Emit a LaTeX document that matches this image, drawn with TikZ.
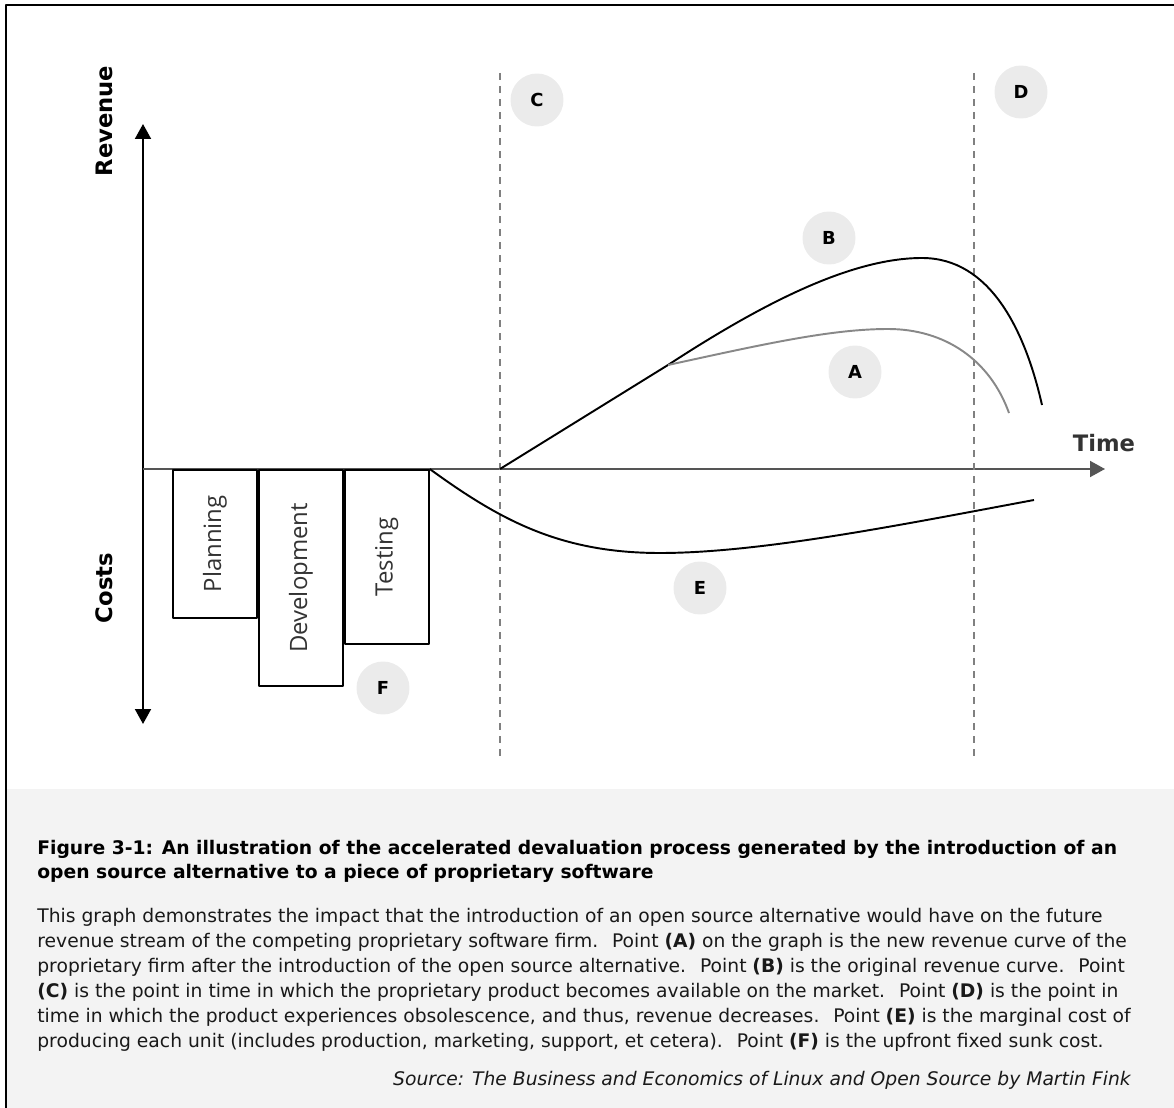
\documentclass[tikz,border=0pt]{standalone}
\usepackage{fontspec}
\setmainfont{DejaVu Sans}
\newfontfamily\phasefont{Open Sans}
\usetikzlibrary{positioning,arrows.meta}

\begin{document}
\begin{tikzpicture}[x=0.02cm, y=-0.02cm, node distance=0cm]
    \tikzset{every path/.style={line join=round}}
\definecolor{Punkt_grau}{RGB}{235,235,235}
\definecolor{Kasten_grau}{RGB}{243,243,243}
\definecolor{Achse_grau}{RGB}{85,85,85}
\definecolor{Kurve_grau}{RGB}{136,136,136}
\definecolor{Linie_grau}{RGB}{128,128,128}
\tikzset{
    marker/.style={circle, fill=Punkt_grau, minimum size=1.06cm, inner sep=0pt, font=\bfseries\fontsize{10.2}{12}\selectfont},
    phase/.style={draw=black, line width=1.1pt, minimum width=1.68cm, inner sep=0pt, anchor=north west},
    phasetext/.style={rotate=90, text=black!80, font=\phasefont\fontsize{13.6}{16}\selectfont},
    axistext/.style={rotate=90, anchor=base, font=\bfseries\fontsize{12.9}{15}\selectfont},
    curve/.style={line width=1.1pt},
    marketline/.style={Linie_grau, dash pattern=on 4pt off 3.4pt, line width=0.85pt},
    tip/.style={-{Triangle[width=0.32cm,length=0.3cm]}},
}
\useasboundingbox (0,0) rectangle (1174,1108);

% Hintergrund und Rahmen
\fill[Kasten_grau] (6,789) rectangle (1200,1130);
\draw[line width=1.1pt] (6,1130) -- (6,5) -- (1200,5);

% Achsen
\coordinate (origin) at (143,469);
\coordinate (ytop) at (143,124);
\coordinate (ybot) at (143,724);
\coordinate (xend) at (1105,469);
\draw[tip, line width=1.1pt] (origin) -- (ytop);
\draw[tip, line width=1.1pt] (origin) -- (ybot);
\draw[tip, Achse_grau, line width=1.1pt] (origin) -- (xend);

\node[axistext] (revenue) at (112,121) {Revenue};
\node[axistext] (costs) at (112,588) {Costs};
\node[anchor=base, text=black!80, font=\bfseries\fontsize{12.9}{15}\selectfont] (time) at (1104,452) {Time};

% Markteintritt (C) und Obsoleszenz (D)
\coordinate (Ctop) at (500,73);
\coordinate (Cbot) at (500,757);
\coordinate (Dtop) at (974,73);
\coordinate (Dbot) at (974,757);
\draw[marketline] (Ctop) -- (Cbot);
\draw[marketline] (Dtop) -- (Dbot);

% Fixkosten
\node[phase, minimum height=2.96cm] (planning) at (172,469) {};
\node[phase, minimum height=4.32cm] (development) at (planning.north east) {};
\node[phase, minimum height=3.48cm] (testing) at (development.north east) {};
\node[phasetext] (planningText) at (planning) {Planning};
\node[phasetext] (developmentText) at (development) {Development};
\node[phasetext] (testingText) at (testing) {Testing};

% Umsatzkurven
\coordinate (launch) at (500,469);
\coordinate (branch) at (668,365);
\coordinate (peakB) at (922,258);
\coordinate (endB) at (1042,405);
\coordinate (peakA) at (888,329);
\coordinate (endA) at (1009,413);
\draw[curve] (launch) -- (branch) .. controls (760,305) and (850,258) .. (peakB) .. controls (990,258) and (1025,330) .. (endB);
\draw[curve, Kurve_grau] (branch) .. controls (760,345) and (830,329) .. (peakA) .. controls (945,329) and (990,360) .. (endA);

% Grenzkosten
\coordinate (lowE) at (660,553);
\coordinate (endE) at (1034,500);
\draw[curve] (testing.north east) .. controls (500,520) and (560,553) .. (lowE) .. controls (760,553) and (900,525) .. (endE);

% Punkte A bis F
\foreach \p/\x/\y in {A/855/372, B/829/238, C/537/100, D/1021/92, E/700/588, F/383/688} {
    \node[marker] (point\p) at (\x,\y) {\p};
}

% Bildunterschrift
\node[anchor=base west, align=left, inner sep=0pt, font=\bfseries\fontsize{10.66}{13.3}\selectfont] (captionTitle) at (37,878) {Figure 3-1: An illustration of the accelerated devaluation process generated by the introduction of an\\open source alternative to a piece of proprietary software};
\node[anchor=base west, align=left, inner sep=0pt, text=black!90, font=\fontsize{10.66}{14.17}\selectfont] (captionText) at (37,1047) {This graph demonstrates the impact that the introduction of an open source alternative would have on the future\\
revenue stream of the competing proprietary software firm.~ Point \textbf{(A)} on the graph is the new revenue curve of the\\
proprietary firm after the introduction of the open source alternative.~ Point \textbf{(B)} is the original revenue curve.~ Point\\
\textbf{(C)} is the point in time in which the proprietary product becomes available on the market.~ Point \textbf{(D)} is the point in\\
time in which the product experiences obsolescence, and thus, revenue decreases.~ Point \textbf{(E)} is the marginal cost of\\
producing each unit (includes production, marketing, support, et cetera).~ Point \textbf{(F)} is the upfront fixed sunk cost.};
\node[anchor=base east, inner sep=0pt, text=black!90, font=\itshape\fontsize{10.66}{14.17}\selectfont] (source) at (1131,1085) {Source: The Business and Economics of Linux and Open Source by Martin Fink};

\end{tikzpicture}
\end{document}
